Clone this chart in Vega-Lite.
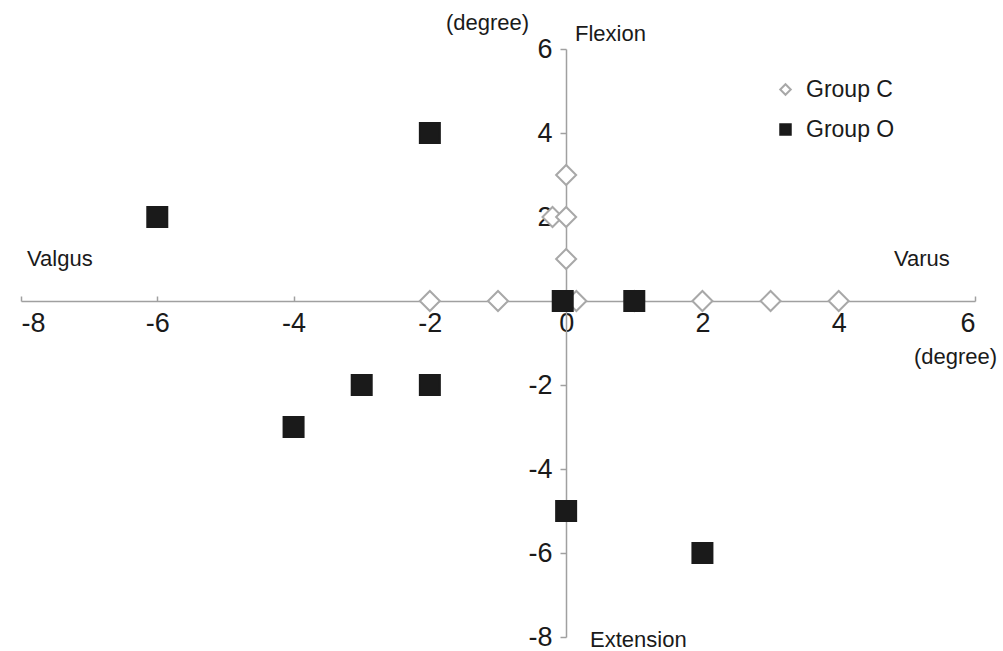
{
  "$schema": "https://vega.github.io/schema/vega-lite/v6.json",
  "width": 954,
  "height": 588,
  "autosize": {"type": "none"},
  "padding": {"left": 21, "top": 49, "right": 28, "bottom": 14},
  "background": "white",
  "config": {
    "view": {"stroke": null},
    "font": "Liberation Sans",
    "axis": {"grid": false, "domainColor": "#a0a0a0", "domainWidth": 1.5, "tickColor": "#a0a0a0", "tickWidth": 1.5, "labelFont": "Liberation Sans", "labelFontSize": 27, "labelColor": "#1a1a1a", "titleFont": "Liberation Sans", "titleFontSize": 22, "titleFontWeight": "normal", "titleColor": "#1a1a1a"},
    "legend": {"orient": "none", "legendX": 753, "legendY": 29, "labelFontSize": 23, "labelFont": "Liberation Sans", "labelColor": "#1a1a1a", "symbolSize": 110, "rowPadding": 16, "labelOffset": 9, "symbolStrokeWidth": 2, "title": null}
  },
  "datasets": {
    "points": [
      {"group": "Group C", "x": -2, "y": 0},
      {"group": "Group C", "x": -1, "y": 0},
      {"group": "Group C", "x": 0, "y": 0},
      {"group": "Group C", "x": 0.15, "y": 0},
      {"group": "Group C", "x": 1, "y": 0},
      {"group": "Group C", "x": 2, "y": 0},
      {"group": "Group C", "x": 3, "y": 0},
      {"group": "Group C", "x": 4, "y": 0},
      {"group": "Group C", "x": 0, "y": 1},
      {"group": "Group C", "x": -0.2, "y": 2},
      {"group": "Group C", "x": 0, "y": 2},
      {"group": "Group C", "x": 0, "y": 3},
      {"group": "Group O", "x": -2, "y": 4},
      {"group": "Group O", "x": -6, "y": 2},
      {"group": "Group O", "x": -3, "y": -2},
      {"group": "Group O", "x": -2, "y": -2},
      {"group": "Group O", "x": -4, "y": -3},
      {"group": "Group O", "x": 0, "y": -5},
      {"group": "Group O", "x": 2, "y": -6},
      {"group": "Group O", "x": 1, "y": 0},
      {"group": "Group O", "x": -0.05, "y": 0}
    ],
    "notes": [
      {"label": "Flexion", "x": 0.65, "y": 6.35},
      {"label": "Valgus", "x": -7.43, "y": 1.0},
      {"label": "Varus", "x": 5.22, "y": 1.0},
      {"label": "Extension", "x": 1.06, "y": -8.06}
    ]
  },
  "layer": [
    {
      "data": {"name": "points"},
      "mark": {"type": "point", "filled": false, "strokeWidth": 2, "opacity": 1, "size": 400},
      "encoding": {
        "x": {"field": "x", "type": "quantitative", "scale": {"domain": [-8, 6], "nice": false, "zero": false},
          "axis": {"orient": "bottom", "offset": -336, "values": [-8, -6, -4, -2, 0, 2, 4, 6], "ticks": true, "tickSize": -5, "labelPadding": 14, "labelExpr": "'' + datum.value", "title": "(degree)", "titleX": 934, "titleY": 55, "titleAlign": "center", "titleBaseline": "middle"}},
        "y": {"field": "y", "type": "quantitative", "scale": {"domain": [-8, 6], "nice": false, "zero": false},
          "axis": {"orient": "left", "offset": -545, "values": [-8, -6, -4, -2, 2, 4, 6], "ticks": true, "tickSize": 6, "labelPadding": 8, "labelExpr": "'' + datum.value", "title": "(degree)", "titleAngle": 0, "titleX": -79, "titleY": -27, "titleAlign": "center", "titleBaseline": "middle"}},
        "shape": {"field": "group", "type": "nominal", "scale": {"domain": ["Group C", "Group O"], "range": ["diamond", "square"]}},
        "fill": {"field": "group", "type": "nominal", "scale": {"domain": ["Group C", "Group O"], "range": ["#ffffff", "#1a1a1a"]}},
        "stroke": {"field": "group", "type": "nominal", "scale": {"domain": ["Group C", "Group O"], "range": ["#a8a8a8", "#1a1a1a"]},
          "legend": {"encode": {"symbols": {"update": {"stroke": {"value": "#1a1a1a"}}}}}}
      }
    },
    {
      "data": {"name": "notes"},
      "mark": {"type": "text", "fontSize": 22, "font": "Liberation Sans", "color": "#1a1a1a", "align": "center", "baseline": "middle", "clip": false},
      "encoding": {
        "x": {"field": "x", "type": "quantitative"},
        "y": {"field": "y", "type": "quantitative"},
        "text": {"field": "label", "type": "nominal"}
      }
    }
  ]
}
